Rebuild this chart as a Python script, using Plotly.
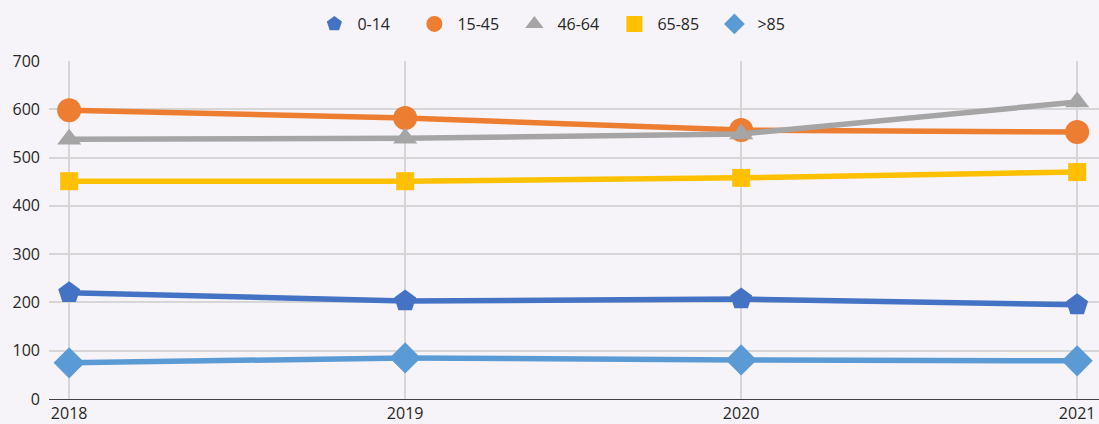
import plotly.graph_objects as go

# Values
years = [2018, 2019, 2020, 2021]
age_0_14 = [220, 203, 207, 195]
age_15_45 = [598, 582, 557, 553]
age_46_64 = [538, 540, 549, 615]
age_65_85 = [451, 451, 458, 470]
age_85_plus = [75, 85, 81, 79]

series = [
    ("0-14", age_0_14, "#4472C4", "pentagon", 23),
    ("15-45", age_15_45, "#ED7D31", "circle", 24),
    ("46-64", age_46_64, "#A5A5A5", "triangle-up", 21),
    ("65-85", age_65_85, "#FFC000", "square", 18),
    (">85", age_85_plus, "#5B9BD5", "diamond", 24),
]

fig = go.Figure()
for name, vals, color, symbol, size in series:
    fig.add_trace(go.Scatter(
        x=years,
        y=vals,
        name=name,
        legendgroup=name,
        showlegend=False,
        mode="lines+markers",
        line=dict(color=color, width=5.5),
        marker=dict(symbol=symbol, size=size, color=color),
    ))
    # marker-only entry for the legend
    fig.add_trace(go.Scatter(
        x=[None],
        y=[None],
        name=name,
        legendgroup=name,
        mode="markers",
        marker=dict(symbol=symbol, size=16, color=color),
    ))

fig.update_layout(
    width=1099,
    height=424,
    margin=dict(l=49, r=0, t=61, b=25),
    paper_bgcolor="#F7F4F9",
    plot_bgcolor="#F7F4F9",
    font=dict(family="Open Sans", size=16, color="#262626"),
    showlegend=True,
    legend=dict(
        orientation="h",
        x=0.488, xanchor="center",
        y=1 - 24 / 424, yanchor="middle",
        yref="container",
        font=dict(size=16),
        itemwidth=36,
        entrywidth=49,
        traceorder="normal",
        bgcolor="rgba(0,0,0,0)",
    ),
    xaxis=dict(
        range=[2017.94, 2021.065],
        tickvals=years,
        ticktext=[str(y) for y in years],
        showgrid=True,
        gridcolor="#D6D6D6",
        gridwidth=2,
        zeroline=False,
        showline=True,
        linecolor="#404040",
        linewidth=1,
        ticks="",
    ),
    yaxis=dict(
        range=[0, 700],
        dtick=100,
        showgrid=True,
        gridcolor="#D6D6D6",
        gridwidth=2,
        zeroline=False,
        showline=False,
        ticks="",
        ticklabelstandoff=8,
    ),
)

fig.write_html("out.html", config={"displayModeBar": False},
               post_script="document.body.style.margin='0';")
